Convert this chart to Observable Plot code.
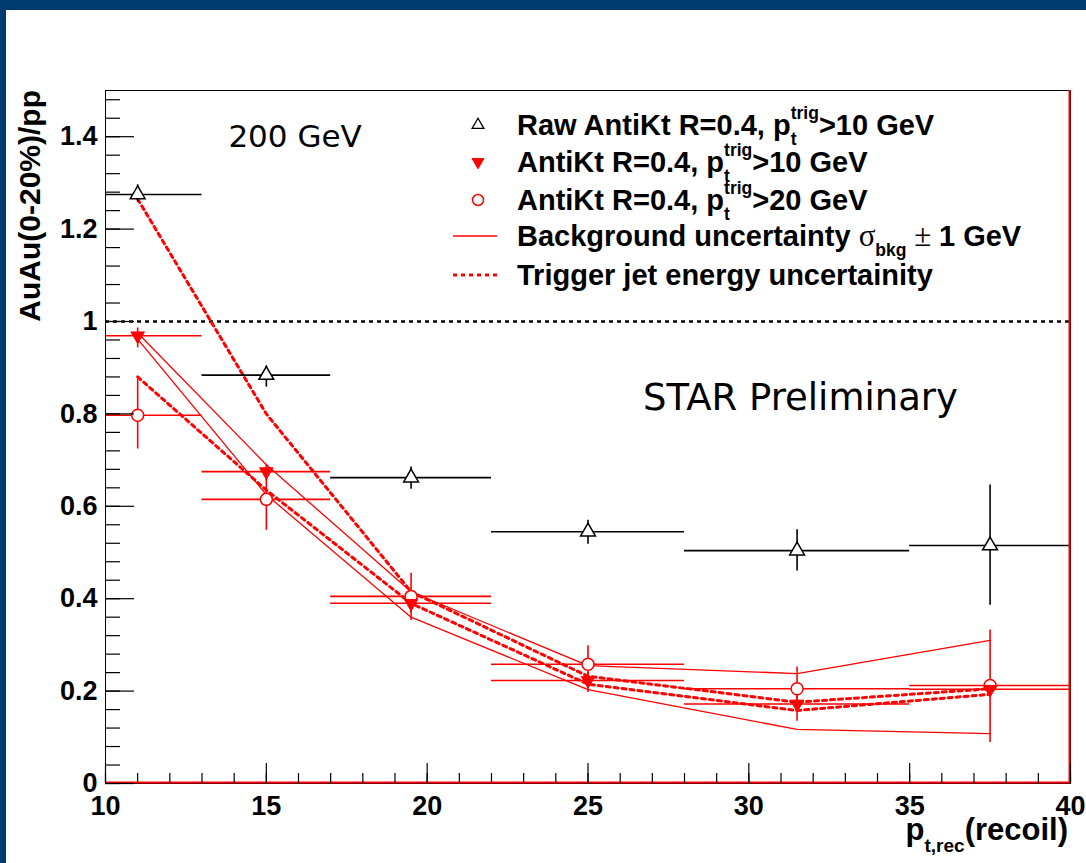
<!DOCTYPE html>
<html>
<head>
<meta charset="utf-8">
<script src="https://cdn.jsdelivr.net/npm/d3@7"></script>
<script src="https://cdn.jsdelivr.net/npm/@observablehq/plot@0.6"></script>
<style>
  html, body { margin: 0; padding: 0; background: #fff; }
  #wrap { position: relative; width: 1086px; height: 863px; overflow: hidden; background: #fff; }
  #chart { position: absolute; left: 0; top: 0; }
  .band-top { position: absolute; left: 0; top: 0; width: 1086px; height: 10px; background: #003a6e; }
  .band-left { position: absolute; left: 0; top: 0; width: 6px; height: 863px; background: #003a6e; }
</style>
</head>
<body>
<div id="wrap">
  <div id="chart"></div>
  <div class="band-top"></div>
  <div class="band-left"></div>
</div>
<script>
// ---------------- data ----------------
const binCenter = [11, 15, 19.5, 25, 31.5, 37.5];
const binLow    = [10, 13, 17, 22, 28, 35];
const binHigh   = [13, 17, 22, 28, 35, 40];

// Raw AntiKt R=0.4, pt trig > 10 GeV (black open triangles)
const rawValue   = [1.275, 0.884, 0.662, 0.545, 0.504, 0.515];
const rawErrLow  = [1.258, 0.858, 0.637, 0.518, 0.460, 0.386];
const rawErrHigh = [1.296, 0.904, 0.685, 0.570, 0.549, 0.646];

// AntiKt R=0.4, pt trig > 10 GeV (red filled down triangles)
const trig10Value   = [0.969, 0.675, 0.390, 0.223, 0.172, 0.204];
const trig10ErrLow  = [0.943, 0.655, 0.370, 0.197, 0.135, 0.188];
const trig10ErrHigh = [0.986, 0.691, 0.412, 0.240, 0.200, 0.222];

// AntiKt R=0.4, pt trig > 20 GeV (red open circles)
const trig20Value   = [0.797, 0.615, 0.405, 0.258, 0.205, 0.212];
const trig20ErrLow  = [0.724, 0.548, 0.353, 0.220, 0.160, 0.089];
const trig20ErrHigh = [0.875, 0.675, 0.455, 0.298, 0.252, 0.332];

// Background uncertainty band (solid red)
const bkgUpper = [0.975, 0.690, 0.415, 0.255, 0.238, 0.310];
const bkgLower = [0.962, 0.625, 0.360, 0.203, 0.117, 0.108];

// Trigger jet energy uncertainty band (dashed red)
const trigUpper = [1.265, 0.800, 0.415, 0.232, 0.176, 0.205];
const trigLower = [0.880, 0.635, 0.390, 0.215, 0.158, 0.193];

// axes
const xMajorTicks = [10, 15, 20, 25, 30, 35, 40];
const xMinorTicks = d3.range(10, 40.001, 1);
const yMajorTicks = [0, 0.2, 0.4, 0.6, 0.8, 1, 1.2, 1.4];
const yMinorTicks = d3.range(0, 1.5001, 0.04);
const yTickLabels = ["0", "0.2", "0.4", "0.6", "0.8", "1", "1.2", "1.4"];

const annotations = [
  {x: 13.82, y: 1.40, text: "200 GeV", size: 31},
  {x: 26.71, y: 0.835, text: "STAR Preliminary", size: 37}
];

// ---------------- table ----------------
const rows = binCenter.map((x, i) => ({
  x, lo: binLow[i], hi: binHigh[i],
  raw: rawValue[i], rawLo: rawErrLow[i], rawHi: rawErrHigh[i],
  t10: trig10Value[i], t10Lo: trig10ErrLow[i], t10Hi: trig10ErrHigh[i],
  t20: trig20Value[i], t20Lo: trig20ErrLow[i], t20Hi: trig20ErrHigh[i],
  bkgUp: bkgUpper[i], bkgLo: bkgLower[i],
  trgUp: trigUpper[i], trgLo: trigLower[i]
}));

const RED = "#ff0000";
const FONT = "'Liberation Sans', Arial, Helvetica, sans-serif";
const fmtY = d => yTickLabels[yMajorTicks.indexOf(d)] ?? String(d);

const plot = Plot.plot({
  width: 1086,
  height: 863,
  marginLeft: 105,
  marginRight: 16,
  marginTop: 90,
  marginBottom: 80,
  x: {domain: [10, 40]},
  y: {domain: [0, 1.5]},
  style: {fontFamily: FONT, background: "transparent", color: "black"},
  marks: [
    Plot.ruleY([1], {stroke: "black", strokeWidth: 2.5, strokeDasharray: "4,4"}),
    // uncertainty bands
    Plot.line(rows, {x: "x", y: "bkgUp", stroke: RED, strokeWidth: 1.3}),
    Plot.line(rows, {x: "x", y: "bkgLo", stroke: RED, strokeWidth: 1.3}),
    Plot.line(rows, {x: "x", y: "trgUp", stroke: RED, strokeWidth: 3, strokeDasharray: "4,4"}),
    Plot.line(rows, {x: "x", y: "trgLo", stroke: RED, strokeWidth: 3, strokeDasharray: "4,4"}),
    // raw
    Plot.ruleY(rows, {y: "raw", x1: "lo", x2: "hi", stroke: "black", strokeWidth: 1.6}),
    Plot.ruleX(rows, {x: "x", y1: "rawLo", y2: "rawHi", stroke: "black", strokeWidth: 1.6}),
    // pt>20
    Plot.ruleY(rows, {y: "t20", x1: "lo", x2: "hi", stroke: RED, strokeWidth: 1.6}),
    Plot.ruleX(rows, {x: "x", y1: "t20Lo", y2: "t20Hi", stroke: RED, strokeWidth: 1.6}),
    // pt>10
    Plot.ruleY(rows, {y: "t10", x1: "lo", x2: "hi", stroke: RED, strokeWidth: 1.6}),
    Plot.ruleX(rows, {x: "x", y1: "t10Lo", y2: "t10Hi", stroke: RED, strokeWidth: 1.6}),
    // markers
    Plot.dot(rows, {x: "x", y: "raw", symbol: "triangle", r: 5.5, fill: "white", stroke: "black", strokeWidth: 1.5}),
    Plot.dot(rows, {x: "x", y: "t20", symbol: "circle", r: 6, fill: "white", stroke: RED, strokeWidth: 1.5}),
    Plot.dot(rows, {x: "x", y: "t10", symbol: "triangle", r: 5, rotate: 180, fill: RED, stroke: RED, strokeWidth: 1}),
    // annotations
    Plot.text(annotations, {x: "x", y: "y", text: "text", fontSize: "size", textAnchor: "start",
      fontFamily: "'DejaVu Sans', sans-serif", fill: "black"}),
    // frame
    Plot.frame({stroke: "black", strokeWidth: 1}),
    Plot.ruleX([40], {stroke: RED, strokeWidth: 2, dx: -1}),
    Plot.ruleY([0], {stroke: RED, strokeWidth: 2, dy: -1}),
    // ticks (inward)
    Plot.axisX({ticks: xMinorTicks, tickSize: -10, tickFormat: () => "", label: null, strokeWidth: 1.2}),
    Plot.axisX({ticks: xMajorTicks, tickSize: -20, tickFormat: () => "", label: null, strokeWidth: 1.2}),
    Plot.axisY({ticks: yMinorTicks, tickSize: -15, tickFormat: () => "", label: null, strokeWidth: 1.2}),
    Plot.axisY({ticks: yMajorTicks, tickSize: -29, tickFormat: () => "", label: null, strokeWidth: 1.2}),
    // tick labels
    Plot.axisX({ticks: xMajorTicks, tickSize: 0, tickPadding: 12, label: null,
      fontSize: 27, fontWeight: "bold", tickFormat: d => String(d)}),
    Plot.axisY({ticks: yMajorTicks, tickSize: 0, tickPadding: 8, label: null,
      fontSize: 27, fontWeight: "bold", tickFormat: fmtY})
  ]
});

document.getElementById("chart").appendChild(plot);

// ---------------- titles & legend ----------------
const svg = d3.select(plot);
const g = svg.append("g").attr("font-family", FONT).attr("font-weight", "bold")
  .attr("fill", "black").attr("text-anchor", "start");

// y title
g.append("text")
  .attr("transform", "translate(40,90) rotate(-90)")
  .attr("text-anchor", "end")
  .attr("font-size", 30)
  .text("AuAu(0-20%)/pp");

// x title
const xt = g.append("text").attr("x", 1068).attr("y", 840).attr("text-anchor", "end").attr("font-size", 31);
xt.append("tspan").text("p");
xt.append("tspan").attr("font-size", 19).attr("dy", 12).text("t,rec");
xt.append("tspan").attr("dy", -12).text("(recoil)");

// legend
const LX = 517, MX = 478, LW0 = 453, LW1 = 497;
const legendBase = [135, 172, 210, 246, 285];
const LFS = 29, SFS = 17.5;

function ptLabel(y, prefix, suffix) {
  const t = g.append("text").attr("x", LX).attr("y", y).attr("font-size", LFS);
  t.append("tspan").text(prefix);
  t.append("tspan").attr("font-size", SFS).attr("dy", 10).text("t");
  t.append("tspan").attr("font-size", SFS).attr("dx", -5.8).attr("dy", -26).text("trig");
  t.append("tspan").attr("dy", 16).text(suffix);
}
ptLabel(legendBase[0], "Raw AntiKt R=0.4, p", ">10 GeV");
ptLabel(legendBase[1], "AntiKt R=0.4, p", ">10 GeV");
ptLabel(legendBase[2], "AntiKt R=0.4, p", ">20 GeV");

const t4 = g.append("text").attr("x", LX).attr("y", legendBase[3]).attr("font-size", LFS);
t4.append("tspan").text("Background uncertainty ");
t4.append("tspan").attr("font-family", "'Liberation Serif', 'DejaVu Serif', serif").attr("font-weight", "normal").attr("font-size", 31).text("σ");
t4.append("tspan").attr("font-size", SFS).attr("dy", 10).text("bkg");
t4.append("tspan").attr("dy", -10).attr("font-family", "'Liberation Serif', 'DejaVu Serif', serif").attr("font-weight", "normal").attr("font-size", 31).text(" ± ");
t4.append("tspan").text("1 GeV");

g.append("text").attr("x", LX).attr("y", legendBase[4]).attr("font-size", LFS).text("Trigger jet energy uncertainity");

// legend markers
const sym = d3.symbol();
g.append("path").attr("d", sym.type(d3.symbolTriangle).size(60)())
  .attr("transform", `translate(${MX},${legendBase[0] - 10})`)
  .attr("fill", "white").attr("stroke", "black").attr("stroke-width", 1.3);
g.append("path").attr("d", sym.type(d3.symbolTriangle).size(60)())
  .attr("transform", `translate(${MX},${legendBase[1] - 10}) rotate(180)`)
  .attr("fill", RED).attr("stroke", RED);
g.append("circle").attr("cx", MX).attr("cy", legendBase[2] - 10).attr("r", 5.5)
  .attr("fill", "white").attr("stroke", RED).attr("stroke-width", 1.5);
g.append("line").attr("x1", LW0).attr("x2", LW1).attr("y1", legendBase[3] - 10).attr("y2", legendBase[3] - 10)
  .attr("stroke", RED).attr("stroke-width", 1.5);
g.append("line").attr("x1", LW0).attr("x2", LW1).attr("y1", legendBase[4] - 10).attr("y2", legendBase[4] - 10)
  .attr("stroke", RED).attr("stroke-width", 3).attr("stroke-dasharray", "4,4");
</script>
</body>
</html>
